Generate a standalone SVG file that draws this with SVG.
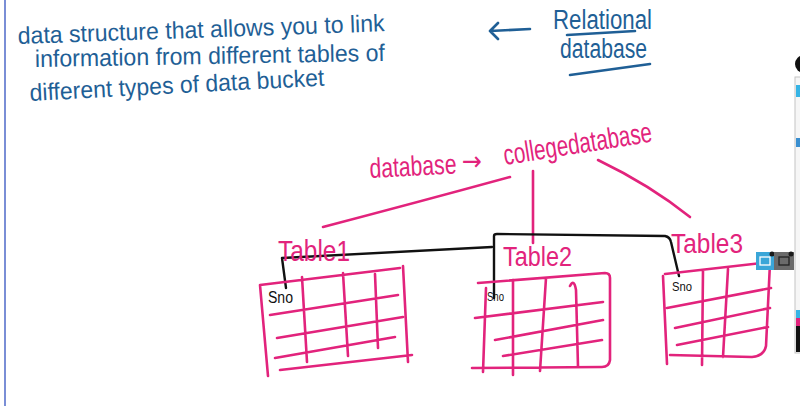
<svg xmlns="http://www.w3.org/2000/svg" width="800" height="406" viewBox="0 0 800 406">
<style>
.blue{fill:#1f5f96;font-family:"Liberation Sans",Arial,sans-serif;}
.pinkt{fill:#e2237c;font-family:"Liberation Sans",Arial,sans-serif;}
.blk{fill:#111;font-family:"Liberation Sans",Arial,sans-serif;}
.pk{fill:none;stroke:#e2237c;stroke-width:2.6;stroke-linecap:round;stroke-linejoin:round;}
.bk{fill:none;stroke:#111;stroke-width:2.4;stroke-linecap:round;stroke-linejoin:round;}
.bl{fill:none;stroke:#1f5f96;stroke-width:2.6;stroke-linecap:round;stroke-linejoin:round;}
</style>
<rect width="800" height="406" fill="#fff"/>
<line x1="5" y1="0" x2="5" y2="406" stroke="#7a8ed6" stroke-width="2"/>

<g id="definition">
<text class="blue" x="18" y="44" font-size="24" textLength="367" lengthAdjust="spacingAndGlyphs" transform="rotate(-2 18 44)">data structure that allows you to link</text>
<text class="blue" x="35" y="67" font-size="24" textLength="350" lengthAdjust="spacingAndGlyphs" transform="rotate(-1 35 67)">information from different tables of</text>
<text class="blue" x="30" y="101" font-size="24" textLength="295" lengthAdjust="spacingAndGlyphs" transform="rotate(-3 30 101)">different types of data bucket</text>
</g>

<g id="relational-database">
<path class="bl" d="M530,29 L490,31 M498,23 L490,31 L498,39"/>
<text class="blue" x="553" y="29" font-size="27" textLength="99" lengthAdjust="spacingAndGlyphs">Relational</text>
<path class="bl" d="M567,35 L635,31"/>
<text class="blue" x="560" y="58" font-size="27" textLength="87" lengthAdjust="spacingAndGlyphs">database</text>
<path class="bl" d="M570,75 L650,64"/>
</g>

<g id="root">
<text class="pinkt" x="370" y="178" font-size="28" textLength="87" lengthAdjust="spacingAndGlyphs" transform="rotate(-3 370 178)">database</text>
<text x="462" y="170" font-size="26" fill="#e2237c" font-family="'DejaVu Sans',sans-serif" textLength="20" lengthAdjust="spacingAndGlyphs">→</text>
<text class="pinkt" x="505" y="165" font-size="29" textLength="150" lengthAdjust="spacingAndGlyphs" transform="rotate(-9 505 165)">collegedatabase</text>
</g>

<g id="connectors">
<path class="pk" d="M510,177 Q415,203 323,227"/>
<path class="pk" d="M533,171 L533,243"/>
<path class="pk" d="M598,160 Q650,185 690,217"/>
<path class="bk" d="M286,288 L282,258 L492,247"/>
<path class="bk" d="M494,298 L494,236 Q494,234 497,234 L665,236 Q670,237 671,242 L679,276"/>
</g>

<g id="table1">
<text class="pinkt" x="278" y="261" font-size="29" textLength="72" lengthAdjust="spacingAndGlyphs">Table1</text>
<path class="pk" d="M260,285 L268,376 M260,285 L400,268 M403,266 L408,362 M270,315 L398,295 M277,338 L403,317 M275,358 L395,337 M280,370 L412,355 M302,277 L307,362 M343,273 L348,356 M375,274 L378,348"/>
<text class="blk" x="268" y="303" font-size="16" textLength="25" lengthAdjust="spacingAndGlyphs">Sno</text>
</g>

<g id="table2">
<text class="pinkt" x="503" y="266" font-size="27" textLength="69" lengthAdjust="spacingAndGlyphs">Table2</text>
<path class="pk" d="M478,283 L605,273 Q610,273 610,278 L610,360 Q609,367 602,367 L472,368 M486,288 L483,372 M475,318 L603,302 M495,340 L603,320 M503,356 L602,340 M513,280 L513,375 M546,278 L540,371 M570,286 Q574,278 576,290 L578,367"/>
<text class="blk" x="487" y="301" font-size="12" textLength="17" lengthAdjust="spacingAndGlyphs">Sno</text>
</g>

<g id="table3">
<text class="pinkt" x="671" y="253" font-size="27" textLength="72" lengthAdjust="spacingAndGlyphs">Table3</text>
<path class="pk" d="M663,276 L667,364 M665,274 L770,262 M770,263 L766,346 Q764,356 752,357 L670,355 M667,308 L771,288 M675,328 L770,308 M677,345 L768,327 M703,270 L702,365 M728,269 L723,357"/>
<text class="blk" x="672" y="291" font-size="12" textLength="20" lengthAdjust="spacingAndGlyphs">Sno</text>
</g>

<g id="ui">
<rect x="756" y="252" width="18" height="18" fill="#3aa6d8"/>
<rect x="760" y="257" width="10" height="8" fill="none" stroke="#fff" stroke-width="1.3"/>
<circle cx="772" cy="254" r="2.5" fill="#1a1a1a"/>
<rect x="774" y="252" width="20" height="18" fill="#6b6b6b"/>
<rect x="779" y="257" width="10" height="8" fill="none" stroke="#222" stroke-width="1.3"/>
<circle cx="791" cy="254" r="2.5" fill="#1a1a1a"/>
<circle cx="804" cy="64" r="9" fill="#111"/>
<rect x="795" y="77" width="10" height="276" fill="#f6f6f6" stroke="#c4c4c4" stroke-width="1"/>
<rect x="796" y="85" width="5" height="12" fill="#36b4e5"/>
<rect x="796" y="138" width="5" height="9" fill="#3a8fd0"/>
<rect x="796" y="310" width="5" height="8" fill="#36b4e5"/>
<rect x="796" y="318" width="5" height="8" fill="#e2237c"/>
<rect x="796" y="326" width="5" height="26" fill="#111"/>
</g>
</svg>
